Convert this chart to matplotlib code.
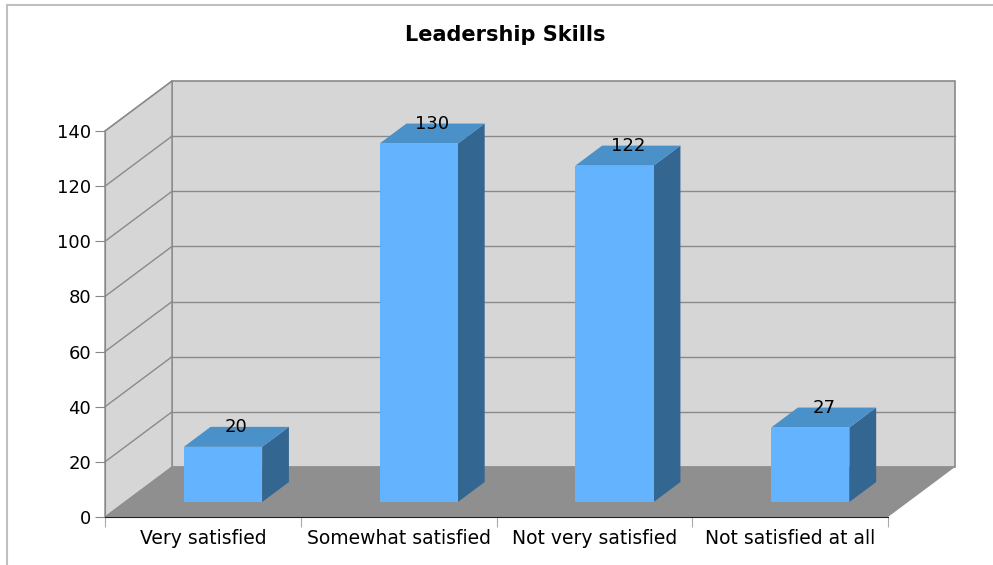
import matplotlib.pyplot as plt
from matplotlib.patches import Polygon, Rectangle
from matplotlib.transforms import ScaledTranslation

categories = ['Very satisfied', 'Somewhat satisfied', 'Not very satisfied', 'Not satisfied at all']
values = [20, 130, 122, 27]
title = 'Leadership Skills'
yticks = [0, 20, 40, 60, 80, 100, 120, 140]

# 3D look: depth offset in inches (full depth), bars sit between 0.3 and 0.7 of it
DX, DY = 0.67, 0.50
BAR_W = 0.4
D0, D1 = 0.3, 0.7

WALL = '#d6d6d6'
FLOOR = '#8f8f8f'
GRID = '#8a8a8a'
FRONT = '#63b3ff'
TOP = '#4a90c9'
SIDE = '#336690'

fig = plt.figure(figsize=(9.93, 5.65), dpi=100)
ax = fig.add_axes([105 / 993, 1 - 517 / 565, 783 / 993, 386 / 565])
ax.set_xlim(0, len(categories))
ax.set_ylim(0, 140)
ax.patch.set_visible(False)


def depth(d):
    return ax.transData + ScaledTranslation(DX * d, DY * d, fig.dpi_scale_trans)


n = len(categories)
# back wall
ax.add_patch(Rectangle((0, 0), n, 140, fc=WALL, ec=GRID, lw=1.2, transform=depth(1), clip_on=False, zorder=0))
for v in yticks[1:-1]:
    ax.plot([0, n], [v, v], color=GRID, lw=1, transform=depth(1), clip_on=False, zorder=1)

# side wall (display coords from front and back planes)
front_pts = ax.transData.transform([(0, 0), (0, 140)])
back_pts = depth(1).transform([(0, 140), (0, 0)])
ax.add_patch(Polygon(list(front_pts) + list(back_pts), closed=True, fc=WALL, ec=GRID, lw=1,
                     transform=None, clip_on=False, zorder=0.6))
for v in yticks[1:]:
    p0 = ax.transData.transform((0, v))
    p1 = depth(1).transform((0, v))
    ax.plot([p0[0], p1[0]], [p0[1], p1[1]], color=GRID, lw=1, transform=None, clip_on=False, zorder=0.7)

# floor
fp = ax.transData.transform([(0, 0), (n, 0)])
bp = depth(1).transform([(n, 0), (0, 0)])
ax.add_patch(Polygon(list(fp) + list(bp), closed=True, fc=FLOOR, ec='none',
                     transform=None, clip_on=False, zorder=1.5))

# bars
for i, v in enumerate(values):
    x0 = i + (1 - BAR_W) / 2
    x1 = x0 + BAR_W
    f0 = depth(D0)
    f1 = depth(D1)
    top = list(f0.transform([(x0, v), (x1, v)])) + list(f1.transform([(x1, v), (x0, v)]))
    rside = list(f0.transform([(x1, 0), (x1, v)])) + list(f1.transform([(x1, v), (x1, 0)]))
    ax.add_patch(Polygon(rside, closed=True, fc=SIDE, ec='none', transform=None, clip_on=False, zorder=2))
    ax.add_patch(Polygon(top, closed=True, fc=TOP, ec='none', transform=None, clip_on=False, zorder=2))
    ax.add_patch(Rectangle((x0, 0), BAR_W, v, fc=FRONT, ec='none', transform=f0, clip_on=False, zorder=3))
    lbl = ax.transData + ScaledTranslation(DX * 0.5, DY * D1, fig.dpi_scale_trans)
    ax.text(i + 0.5, v, str(v), transform=lbl, ha='center', va='center', fontsize=13, zorder=4)

# axes
for s in ['top', 'right']:
    ax.spines[s].set_visible(False)
ax.spines['left'].set_color('#888888')
ax.spines['left'].set_zorder(5)
ax.spines['bottom'].set_color('#222222')
ax.spines['bottom'].set_zorder(5)
ax.set_yticks(yticks)
ax.tick_params(axis='y', length=7, color='#888888', labelsize=13, pad=3)
ax.set_xticks(range(n + 1))
ax.set_xticklabels([])
ax.set_xticks([i + 0.5 for i in range(n)], minor=True)
ax.set_xticklabels(categories, minor=True, fontsize=13.5)
ax.tick_params(axis='x', which='major', length=7, color='#aaaaaa')
ax.tick_params(axis='x', which='minor', length=0, pad=9)

fig.text(505 / 993, 1 - 35 / 565, title, ha='center', va='center', fontsize=15, fontweight='bold')

# frame lines at left and top
fig.add_artist(plt.Line2D([7 / 993, 7 / 993], [0, 1 - 5 / 565], transform=fig.transFigure, color='#c0c0c0', lw=1.5))
fig.add_artist(plt.Line2D([7 / 993, 1], [1 - 5 / 565, 1 - 5 / 565], transform=fig.transFigure, color='#c0c0c0', lw=1.5))

fig.savefig('out.png', dpi=100)
